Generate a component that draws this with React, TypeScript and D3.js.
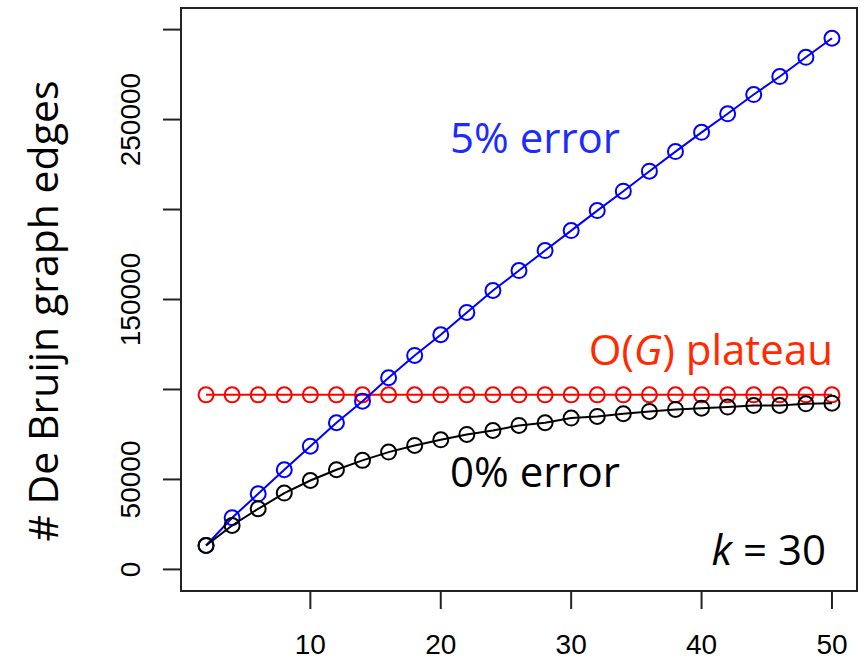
import * as d3 from 'd3';
import React from 'react';

// read lengths (x) and edge counts for each curve
const readLengths = [2, 4, 6, 8, 10, 12, 14, 16, 18, 20, 22, 24, 26, 28, 30, 32, 34, 36, 38, 40, 42, 44, 46, 48, 50];
const edges5pct = [13300, 28700, 42000, 55400, 68500, 81500, 93500, 106500, 118900, 130400, 142800, 155000, 166100, 177200, 188300, 199400, 210200, 221300, 232200, 242900, 253200, 263900, 273900, 284600, 295200];
const edges0pct = [13300, 24400, 33700, 42400, 49400, 55400, 60600, 65200, 68900, 72000, 75000, 77200, 80000, 81500, 84100, 85000, 86500, 87800, 88900, 89600, 90200, 91100, 91100, 92000, 92400];
const plateau = [97000, 97000, 97000, 97000, 97000, 97000, 97000, 97000, 97000, 97000, 97000, 97000, 97000, 97000, 97000, 97000, 97000, 97000, 97000, 97000, 97000, 97000, 97000, 97000, 97000];

const xTicks = [10, 20, 30, 40, 50];
const yTicks = [0, 50000, 100000, 150000, 200000, 250000, 300000];
const yTickLabels = [0, 50000, 150000, 250000];

const width = 864;
const height = 662;
const box = { left: 181, right: 857, top: 8, bottom: 591 };

export default function App() {
  const x = d3.scaleLinear().domain([0.08, 51.92]).range([box.left, box.right]);
  const y = d3.scaleLinear().domain([-12000, 312000]).range([box.bottom, box.top]);

  const line = d3.line<number>()
    .x((d, i) => x(readLengths[i]))
    .y(d => y(d));

  // drawing order: plateau, then 5%, then 0% on top
  const series = [
    { vals: plateau, color: '#ff0000' },
    { vals: edges5pct, color: '#0000ff' },
    { vals: edges0pct, color: '#000000' },
  ];

  const sans = "'Open Sans', sans-serif";
  const arial = "'Liberation Sans', Arial, sans-serif";

  return (
    <svg width={width} height={height} style={{ position: 'absolute', left: 0, top: 0, background: '#fff' }}>
      {/* plot box */}
      <rect x={box.left} y={box.top} width={box.right - box.left} height={box.bottom - box.top}
        fill="none" stroke="#222" strokeWidth={2} />

      {/* x axis ticks */}
      {xTicks.map(t => (
        <g key={'x' + t}>
          <line x1={x(t)} x2={x(t)} y1={box.bottom} y2={box.bottom + 18} stroke="#222" strokeWidth={2} />
          <text x={x(t)} y={654} fontSize={28} fontFamily={arial} textAnchor="middle" fill="#000">{t}</text>
        </g>
      ))}

      {/* y axis ticks */}
      {yTicks.map(t => (
        <line key={'y' + t} x1={box.left - 18} x2={box.left} y1={y(t)} y2={y(t)} stroke="#222" strokeWidth={2} />
      ))}
      {yTickLabels.map(t => (
        <text key={'yl' + t} transform={`translate(140,${y(t)}) rotate(-90)`} fontSize={28}
          fontFamily={arial} textAnchor="middle" fill="#000">{t}</text>
      ))}

      {/* y axis title */}
      <text transform="translate(58,311) rotate(-90)" fontSize={41} fontFamily={sans} textAnchor="middle" fill="#000">
        # De Bruijn graph edges
      </text>

      {/* series */}
      {series.map((s, si) => (
        <g key={si}>
          <path d={line(s.vals) || ''} fill="none" stroke={s.color} strokeWidth={2} />
          {s.vals.map((v, i) => (
            <circle key={i} cx={x(readLengths[i])} cy={y(v)} r={7.5} fill="none" stroke={s.color} strokeWidth={2} />
          ))}
        </g>
      ))}

      {/* annotations */}
      <text x={450} y={153} fontSize={42} fontFamily={sans} fill="#1a2cff">5% error</text>
      <text x={833} y={365} fontSize={42} fontFamily={sans} fill="#ff2a00" textAnchor="end">
        O(<tspan fontStyle="italic">G</tspan>) plateau
      </text>
      <text x={450} y={487} fontSize={42} fontFamily={sans} fill="#000">0% error</text>
      <text x={826} y={565} fontSize={42} fontFamily={sans} fill="#000" textAnchor="end">
        <tspan fontStyle="italic">k</tspan> = 30
      </text>
    </svg>
  );
}
